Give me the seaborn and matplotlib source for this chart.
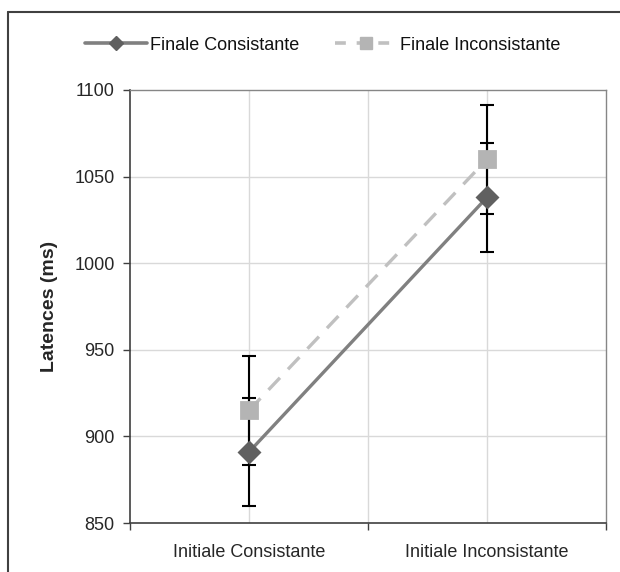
import matplotlib
matplotlib.use("Agg")
import matplotlib.pyplot as plt
import matplotlib.lines as mlines
import seaborn as sns
import pandas as pd
import numpy as np

categories = ["Initiale Consistante", "Initiale Inconsistante"]
series = ["Finale Consistante", "Finale Inconsistante"]
consistante_vals = [891, 1038]
inconsistante_vals = [915, 1060]
consistante_err = [31, 31.5]
inconsistante_err = [31.5, 31.5]
yticks = [850, 900, 950, 1000, 1050, 1100]

sns.set_theme(style="white")
plt.rcParams['font.family'] = ['Liberation Sans', 'DejaVu Sans']
plt.rcParams['text.color'] = '#111111'

df = pd.DataFrame({
    "cond": categories * 2,
    "lat": consistante_vals + inconsistante_vals,
    "serie": [series[0]] * 2 + [series[1]] * 2,
})

fig = plt.figure(figsize=(6.2, 5.72), dpi=100)
ax = fig.add_axes([130/620, 1 - 523/572, (606-130)/620, (523-90)/572])

line_colors = {series[0]: "#808080", series[1]: "#c0c0c0"}
marker_colors = {series[0]: "#606060", series[1]: "#b4b4b4"}

# grid
for y in yticks[1:-1]:
    ax.axhline(y, color="#d9d9d9", lw=1, zorder=0)
for x in [0, 0.5, 1]:
    ax.axvline(x, color="#d9d9d9", lw=1, zorder=0)

# error bars
xpos = np.arange(len(categories))
ax.errorbar(xpos, consistante_vals, yerr=consistante_err, fmt="none",
            ecolor="black", elinewidth=1.5, capsize=5, capthick=1.5, zorder=2)
ax.errorbar(xpos, inconsistante_vals, yerr=inconsistante_err, fmt="none",
            ecolor="black", elinewidth=1.5, capsize=5, capthick=1.5, zorder=2)

sns.pointplot(data=df, x="cond", y="lat", hue="serie", order=categories,
              hue_order=series, palette=line_colors, markers=["D", "s"],
              linestyles=["-", "--"], errorbar=None, ax=ax, legend=False,
              zorder=3)

for ln in ax.lines:
    if ln.get_marker() == "D":
        ln.set_linewidth(2.4)
        ln.set_markersize(10)
        ln.set_markerfacecolor(marker_colors[series[0]])
        ln.set_markeredgecolor(marker_colors[series[0]])
        ln.set_zorder(4)
    elif ln.get_marker() == "s":
        ln.set_linewidth(2.4)
        ln.set_markersize(12)
        ln.set_dashes([5, 3.5])
        ln.set_markerfacecolor(marker_colors[series[1]])
        ln.set_markeredgecolor(marker_colors[series[1]])
        ln.set_zorder(3)

ax.set_xlim(-0.5, 1.5)
ax.set_ylim(850, 1100)
ax.set_yticks(yticks)
ax.set_yticklabels([str(v) for v in yticks], fontsize=13)
ax.set_xticks([-0.5, 0.5, 1.5])
ax.set_xticklabels(["", "", ""])
ax.set_xticks(xpos, minor=True)
ax.set_xticklabels(categories, minor=True, fontsize=13)
ax.tick_params(axis="x", which="minor", length=0, pad=15)
ax.tick_params(axis="x", which="major", length=5, width=1, color="#404040", direction="out", bottom=True)
ax.tick_params(axis="y", length=5, width=1, color="#404040", direction="out", left=True, pad=6)
ax.set_xlabel("")
ax.set_ylabel("Latences (ms)", fontsize=14, fontweight="bold", labelpad=12)

for side in ["left", "bottom"]:
    ax.spines[side].set_color("#404040")
    ax.spines[side].set_linewidth(1.2)
for side in ["top", "right"]:
    ax.spines[side].set_color("#868686")
    ax.spines[side].set_linewidth(1)

h1 = mlines.Line2D([], [], color=line_colors[series[0]], lw=2.6, marker="D",
                   markersize=7, markerfacecolor=marker_colors[series[0]],
                   markeredgecolor=marker_colors[series[0]])
h2 = mlines.Line2D([], [], color=line_colors[series[1]], lw=2.6, marker="s",
                   markersize=9, dashes=[3, 3], markerfacecolor=marker_colors[series[1]],
                   markeredgecolor=marker_colors[series[1]])
fig.legend([h1, h2], series, loc="center", bbox_to_anchor=(323/620, 1 - 45/572),
           ncol=2, frameon=False, fontsize=13, handlelength=3.4, handletextpad=0.2,
           columnspacing=2.0, borderpad=0, borderaxespad=0)

fig.add_artist(mlines.Line2D([8/620, 8/620], [0, 1 - 12/572], transform=fig.transFigure,
                             color="#404040", lw=1.5))
fig.add_artist(mlines.Line2D([8/620, 1], [1 - 12/572, 1 - 12/572], transform=fig.transFigure,
                             color="#404040", lw=1.5))

fig.savefig("out.png", dpi=100, facecolor="white")
